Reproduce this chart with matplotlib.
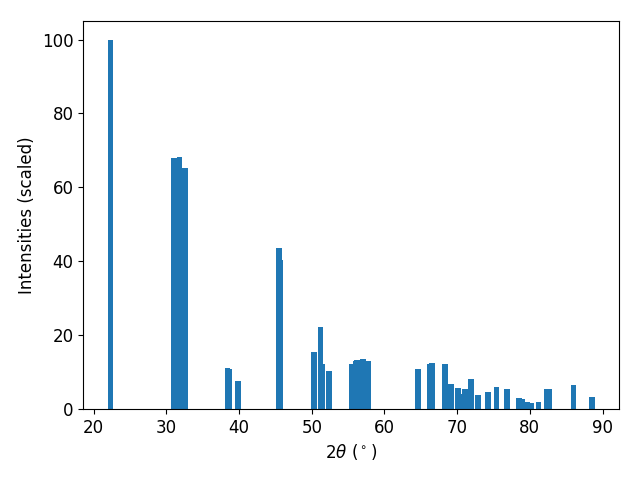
import matplotlib
matplotlib.use("Agg")
import matplotlib.pyplot as plt

# peak positions (2theta, degrees) and scaled intensities
two_theta = [22.3, 31.0, 31.8, 32.6, 38.4, 38.6, 39.9, 45.5, 45.7,
             50.3, 51.2, 51.4, 52.4, 55.5, 56.1, 56.2, 57.1, 57.8,
             64.6, 66.3, 66.5, 68.3, 69.2, 70.1, 70.9, 71.1, 71.9,
             72.9, 74.2, 75.4, 76.9, 78.5, 79.0, 79.6, 80.2, 81.2,
             82.3, 82.7, 86.0, 88.5]
intensity = [100.0, 68.0, 68.3, 65.3, 11.1, 10.8, 7.6, 43.6, 40.3,
             15.4, 22.2, 12.2, 10.3, 12.2, 13.0, 13.3, 13.6, 13.0,
             10.8, 12.2, 12.5, 12.2, 6.8, 5.7, 4.1, 5.4, 8.1,
             3.8, 4.6, 6.0, 5.4, 3.0, 2.6, 1.9, 1.6, 1.9,
             5.4, 5.4, 6.5, 3.2]

plt.figure(figsize=(6.4, 4.8), dpi=100)
plt.bar(two_theta, intensity, width=0.8)
plt.xlabel(r"$2\theta$ ($^\circ$)", fontsize=12)
plt.ylabel("Intensities (scaled)", fontsize=12)
plt.tick_params(labelsize=12)
plt.subplots_adjust(left=0.13, right=0.967, top=0.956, bottom=0.148)
plt.savefig("out.png")
